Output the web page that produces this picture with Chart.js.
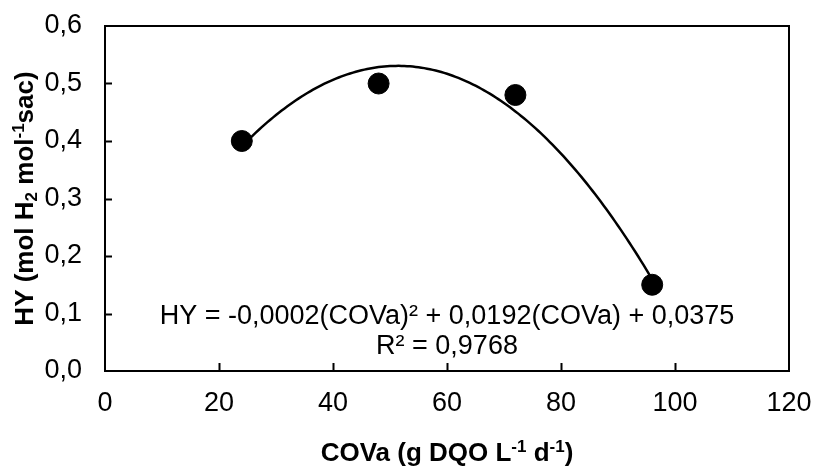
<!DOCTYPE html>
<html>
<head>
<meta charset="utf-8">
<script src="https://cdn.jsdelivr.net/npm/chart.js@4.4.1/dist/chart.umd.min.js"></script>
<style>
  html, body { margin: 0; padding: 0; background: #fff; }
</style>
</head>
<body>
<canvas id="hy-chart" width="814" height="470"></canvas>
<script>
const covaValues = [24, 48, 72, 96];
const hyValues = [0.40, 0.50, 0.48, 0.15];
const xTickValues = [0, 20, 40, 60, 80, 100, 120];
const yTickValues = [0, 0.1, 0.2, 0.3, 0.4, 0.5, 0.6];

const FONT = '"Liberation Sans", Arial, sans-serif';
const comma = (n, d) => n.toFixed(d).replace(".", ",");

// 2nd order least squares fit (same as the spreadsheet polynomial trendline)
function quadFit(xs, ys) {
  const s = [0, 0, 0, 0, 0];
  const t = [0, 0, 0];
  xs.forEach((x, i) => {
    for (let k = 0; k < 5; k++) s[k] += Math.pow(x, k);
    for (let k = 0; k < 3; k++) t[k] += ys[i] * Math.pow(x, k);
  });
  const m = [
    [s[0], s[1], s[2], t[0]],
    [s[1], s[2], s[3], t[1]],
    [s[2], s[3], s[4], t[2]],
  ];
  for (let c = 0; c < 3; c++) {
    for (let r = c + 1; r < 3; r++) {
      const f = m[r][c] / m[c][c];
      for (let k = c; k < 4; k++) m[r][k] -= f * m[c][k];
    }
  }
  const coef = [0, 0, 0];
  for (let r = 2; r >= 0; r--) {
    let v = m[r][3];
    for (let k = r + 1; k < 3; k++) v -= m[r][k] * coef[k];
    coef[r] = v / m[r][r];
  }
  const f = (x) => coef[0] + coef[1] * x + coef[2] * x * x;
  const mean = ys.reduce((a, b) => a + b, 0) / ys.length;
  let ssTot = 0, ssRes = 0;
  xs.forEach((x, i) => {
    ssTot += (ys[i] - mean) ** 2;
    ssRes += (ys[i] - f(x)) ** 2;
  });
  return { coef, f, r2: 1 - ssRes / ssTot };
}

const fit = quadFit(covaValues, hyValues);
const trendPoints = [];
for (let x = Math.min(...covaValues); x <= Math.max(...covaValues); x += 0.5) {
  trendPoints.push({ x: x, y: fit.f(x) });
}

const eqLine1 =
  "HY = " + comma(fit.coef[2], 4) + "(COVa)\u00B2 + " +
  comma(fit.coef[1], 4) + "(COVa) + " + comma(fit.coef[0], 4);
const eqLine2 = "R\u00B2 = " + comma(fit.r2, 4);

// draws text with sub/superscript parts, centred on x
function drawRich(ctx, parts, x, y, size, weight) {
  const small = Math.round(size * 0.65);
  const fontOf = (p) => weight + " " + (p.m ? small : size) + "px " + FONT;
  let total = 0;
  parts.forEach((p) => {
    ctx.font = fontOf(p);
    total += ctx.measureText(p.t).width;
  });
  let cx = x - total / 2;
  ctx.textAlign = "left";
  ctx.textBaseline = "alphabetic";
  parts.forEach((p) => {
    ctx.font = fontOf(p);
    let dy = 0;
    if (p.m === 1) dy = -size * 0.36;
    if (p.m === -1) dy = size * 0.16;
    ctx.fillText(p.t, cx, y + dy);
    cx += ctx.measureText(p.t).width;
  });
}

const framePlugin = {
  id: "frame",
  afterDraw(chart) {
    const { ctx, chartArea: a, scales } = chart;
    const xs = scales.x, ys = scales.y;
    ctx.save();
    ctx.strokeStyle = "#000";
    ctx.lineWidth = 2;
    ctx.strokeRect(a.left, a.top, a.right - a.left, a.bottom - a.top);

    // inside tick marks
    ctx.beginPath();
    yTickValues.slice(1, -1).forEach((v) => {
      const py = Math.round(ys.getPixelForValue(v)) + 0.5;
      ctx.moveTo(a.left, py);
      ctx.lineTo(a.left + 7, py);
    });
    xTickValues.slice(1, -1).forEach((v) => {
      const px = Math.round(xs.getPixelForValue(v)) + 0.5;
      ctx.moveTo(px, a.bottom);
      ctx.lineTo(px, a.bottom - 8);
    });
    ctx.stroke();

    ctx.fillStyle = "#000";
    // trendline equation
    ctx.font = "27px " + FONT;
    ctx.textAlign = "center";
    ctx.textBaseline = "alphabetic";
    const ex = xs.getPixelForValue(60);
    const ey = ys.getPixelForValue(0.1) + 10;
    ctx.fillText(eqLine1, ex, ey);
    ctx.fillText(eqLine2, ex, ey + 30);

    // axis titles
    drawRich(ctx, [
      { t: "COVa (g DQO L" }, { t: "-1", m: 1 }, { t: " d" }, { t: "-1", m: 1 }, { t: ")" },
    ], (a.left + a.right) / 2, 461, 26, "bold");

    ctx.save();
    ctx.translate(33, (a.top + a.bottom) / 2);
    ctx.rotate(-Math.PI / 2);
    drawRich(ctx, [
      { t: "HY (mol H" }, { t: "2", m: -1 }, { t: " mol" }, { t: "-1", m: 1 }, { t: "sac)" },
    ], 0, 0, 26, "bold");
    ctx.restore();
    ctx.restore();
  },
};

new Chart(document.getElementById("hy-chart"), {
  type: "scatter",
  data: {
    datasets: [
      {
        label: "Polinômica",
        data: trendPoints,
        showLine: true,
        borderColor: "#000",
        borderWidth: 2.5,
        pointRadius: 0,
        tension: 0,
      },
      {
        label: "HY",
        data: covaValues.map((x, i) => ({ x: x, y: hyValues[i] })),
        backgroundColor: "#000",
        borderColor: "#000",
        pointRadius: 10.5,
        pointHoverRadius: 10.5,
      },
    ],
  },
  options: {
    responsive: false,
    animation: false,
    layout: { padding: { top: 26, right: 25, left: 0, bottom: 0 } },
    plugins: {
      legend: { display: false },
      tooltip: { enabled: false },
    },
    scales: {
      x: {
        type: "linear",
        min: 0,
        max: 120,
        afterBuildTicks: (s) => { s.ticks = xTickValues.map((v) => ({ value: v })); },
        ticks: {
          font: { family: FONT, size: 27 },
          color: "#000",
          padding: 8,
          maxRotation: 0,
        },
        grid: { display: false },
        border: { display: false },
        afterFit: (s) => {
          s.height = 99;
          s.paddingLeft = 0;
          s.paddingRight = 0;
        },
      },
      y: {
        min: 0,
        max: 0.6,
        afterBuildTicks: (s) => { s.ticks = yTickValues.map((v) => ({ value: v })); },
        ticks: {
          font: { family: FONT, size: 27 },
          color: "#000",
          padding: 15,
          callback: (v) => comma(v, 1),
        },
        grid: { display: false },
        border: { display: false },
        afterFit: (s) => {
          s.width = 105;
          s.paddingTop = 0;
          s.paddingBottom = 0;
        },
      },
    },
  },
  plugins: [framePlugin],
});
</script>
</body>
</html>
